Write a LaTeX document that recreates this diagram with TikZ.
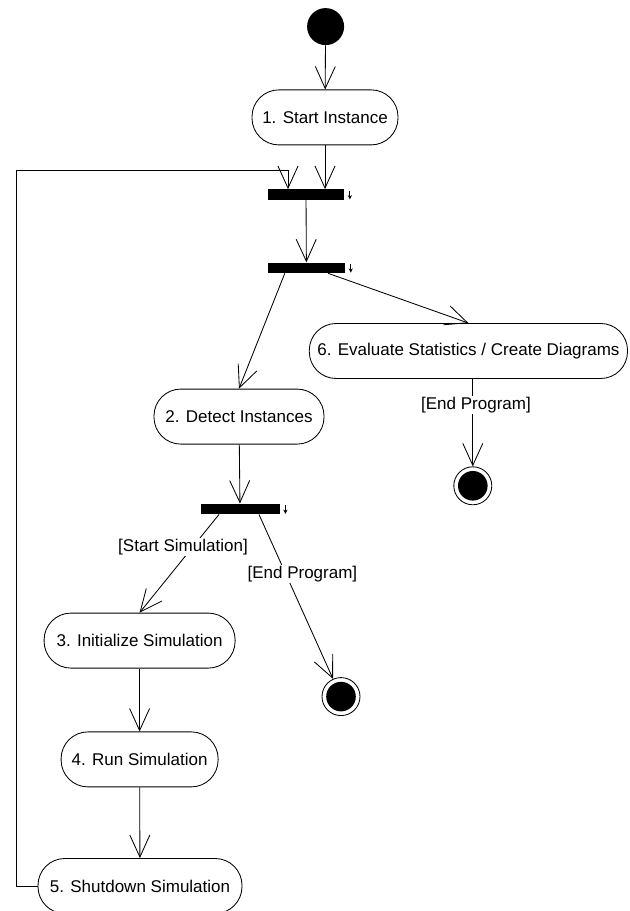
\documentclass[tikz,border=0pt]{standalone}
\usepackage{fontspec}
\setmainfont{Liberation Sans}
\usetikzlibrary{arrows.meta}

\begin{document}
\begin{tikzpicture}[
    flow/.style={line width=0.6pt, -{Straight Barb[length=0.55cm, width=0.5cm, line width=0.6pt]}},
    mini/.style={line width=0.6pt, -{Stealth[length=3pt, width=3pt]}},
    action/.style={draw, line width=0.6pt, rounded corners=0.67cm, minimum height=1.375cm, inner xsep=0.2cm, font=\fontsize{12.1}{14}\selectfont},
    bar/.style={fill=black, minimum height=0.26cm, inner sep=0},
    guard/.style={fill=white, inner sep=1pt, font=\fontsize{12.1}{14}\selectfont},
    initial/.style={circle, fill=black, minimum size=0.925cm, inner sep=0},
    final/.style={circle, draw, line width=0.6pt, minimum size=0.95cm, inner sep=0,
        path picture={\fill (path picture bounding box.center) circle (0.37cm);}}
]
    \useasboundingbox (0,0) rectangle (15.725,22.775);

    %start and actions
    \node[initial] (start) at (8.14,22.11) {};
    \node[action, minimum width=3.65cm] (n1) at (8.125,19.84) {1. Start Instance};
    \node[action, minimum width=4.25cm] (n2) at (5.975,12.36) {2. Detect Instances};
    \node[action, minimum width=4.775cm] (n3) at (3.49,6.76) {3. Initialize Simulation};
    \node[action, minimum width=3.925cm] (n4) at (3.49,3.79) {4. Run Simulation};
    \node[action, minimum width=5.1cm] (n5) at (3.5,0.625) {5. Shutdown Simulation};
    \node[action, minimum width=7.925cm] (n6) at (11.71,14.0) {6. Evaluate Statistics / Create Diagrams};

    %bars
    \node[bar, minimum width=1.9cm] (bar1) at (7.65,17.91) {};
    \node[bar, minimum width=1.925cm] (bar2) at (7.66,16.08) {};
    \node[bar, minimum width=1.975cm] (bar3) at (6.0,10.05) {};
    \foreach \b in {bar1,bar2,bar3}
        \draw[mini] ([xshift=0.14cm,yshift=0.1cm]\b.east) -- ++(0,-0.22);

    %end points
    \node[final] (f1) at (11.82,10.63) {};
    \node[final] (f2) at (8.525,5.36) {};

    %arrows
    \draw[flow] (start) -- (n1);
    \draw[flow] (n1) -- (n1 |- bar1.north);
    \draw[flow] (bar1) -- (bar2);
    \draw[flow] ([xshift=-0.54cm]bar2.south) -- (n2.north);
    \draw[flow] ([xshift=0.54cm]bar2.south) -- (n6.north);
    \draw[flow] (n6.south -| f1) -- (f1);
    \draw[flow] (n2) -- (bar3);
    \draw[flow] ([xshift=-0.525cm]bar3.south) -- (n3.north);
    \draw[flow] ([xshift=0.475cm]bar3.south) -- (f2);
    \draw[flow] (n3) -- (n4);
    \draw[flow] (n4) -- (n5);

    %loop back
    \coordinate (loop) at (7.2,18.525);
    \draw[flow] (n5.west) -- (0.4,0.625) -- (0.4,18.525) -- (loop) -- (loop |- bar1.north);

    %guards
    \node[guard] (g1) at (11.9,12.65) {[End Program]};
    \node[guard] (g2) at (4.575,9.1) {[Start Simulation]};
    \node[guard] (g3) at (7.56,8.425) {[End Program]};
\end{tikzpicture}
\end{document}
